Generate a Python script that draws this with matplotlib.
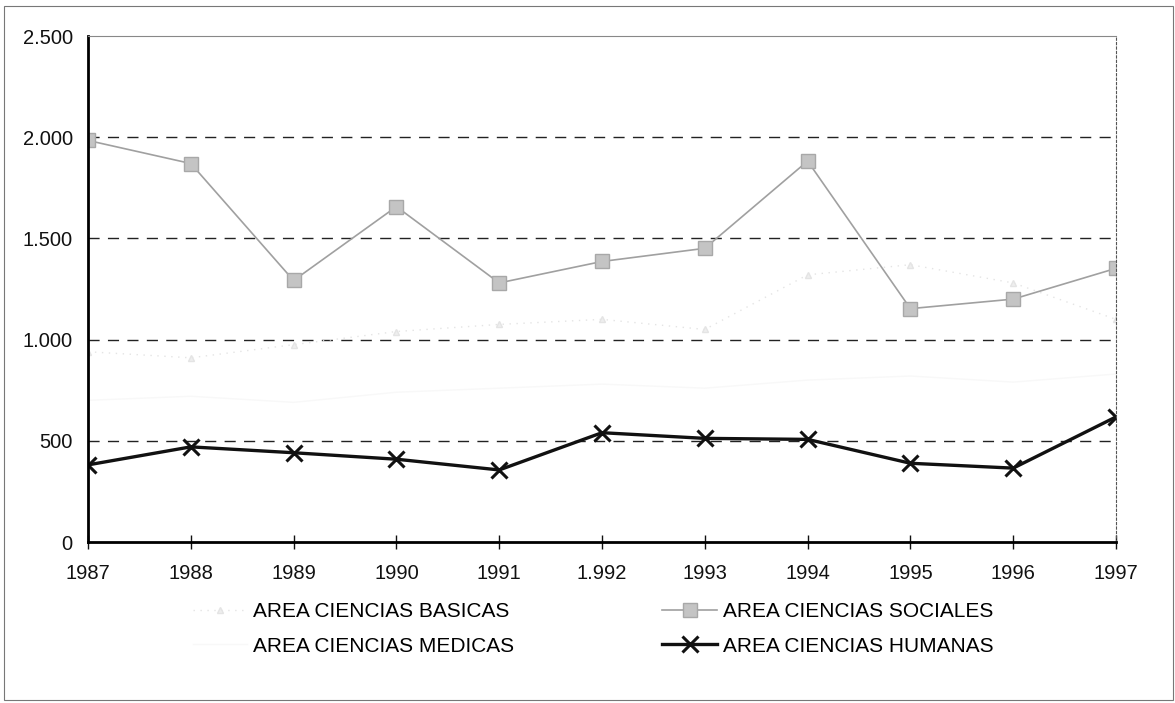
#!/usr/bin/env python3
"""
Produccion por area de ciencias, 1987-1997
Output: out.png
"""

import matplotlib.pyplot as plt
from matplotlib.patches import Rectangle

plt.rcParams['font.family'] = ['Liberation Sans', 'DejaVu Sans']

# =====================================
# Data
# =====================================
YEARS = [1987, 1988, 1989, 1990, 1991, 1992, 1993, 1994, 1995, 1996, 1997]
YEAR_LABELS = ["1987", "1988", "1989", "1990", "1991", "1.992",
               "1993", "1994", "1995", "1996", "1997"]

BASICAS = [940, 910, 975, 1040, 1075, 1100, 1050, 1320, 1370, 1280, 1100]
MEDICAS = [700, 720, 690, 740, 760, 780, 760, 800, 820, 790, 830]
SOCIALES = [1984, 1870, 1292, 1657, 1280, 1386, 1451, 1882, 1153, 1200, 1352]
HUMANAS = [381, 470, 441, 409, 356, 540, 512, 507, 389, 365, 618]

Y_TICKS = [0, 500, 1000, 1500, 2000, 2500]
Y_LABELS = ["0", "500", "1.000", "1.500", "2.000", "2.500"]

# =====================================
# Plot
# =====================================
fig = plt.figure(figsize=(11.75, 7.03), dpi=100)
ax = fig.add_axes([88 / 1175, 1 - 542 / 703, (1116 - 88) / 1175, (542 - 36) / 703])

ax.plot(YEARS, BASICAS, color='#e4e4e4', linewidth=1, linestyle=(0, (1, 4)),
        marker='^', markersize=5, markeredgecolor='#e4e4e4',
        markerfacecolor='#eeeeee', label='AREA CIENCIAS BASICAS')
ax.plot(YEARS, MEDICAS, color='#f8f8f8', linewidth=1,
        label='AREA CIENCIAS MEDICAS')
ax.plot(YEARS, SOCIALES, color='#a0a0a0', linewidth=1.2,
        marker='s', markersize=10, markerfacecolor='#c4c4c4',
        markeredgecolor='#a8a8a8', label='AREA CIENCIAS SOCIALES')
ax.plot(YEARS, HUMANAS, color='#111111', linewidth=2.4,
        marker='x', markersize=12, markeredgewidth=2.2,
        markeredgecolor='#111111', label='AREA CIENCIAS HUMANAS')

ax.set_xlim(YEARS[0], YEARS[-1])
ax.set_ylim(0, 2500)
ax.set_xticks(YEARS)
ax.set_xticklabels(YEAR_LABELS)
ax.set_yticks(Y_TICKS)
ax.set_yticklabels(Y_LABELS)

ax.tick_params(axis='x', direction='inout', length=10, width=1, pad=11,
               labelsize=14.5, colors='#111111')
ax.tick_params(axis='y', direction='in', length=0, pad=11,
               labelsize=14.5, colors='#111111')

for y in [500, 1000, 1500, 2000]:
    ax.axhline(y, color='#222222', linewidth=1, linestyle=(0, (8, 6)), zorder=0)

ax.spines['left'].set_linewidth(2)
ax.spines['bottom'].set_linewidth(2)
ax.spines['top'].set_color('#888888')
ax.spines['top'].set_linestyle((0, (4, 1)))
ax.spines['top'].set_linewidth(0.8)
ax.spines['right'].set_color('#555555')
ax.spines['right'].set_linestyle((0, (2, 2)))
ax.spines['right'].set_linewidth(0.8)

fig.legend(loc='upper left', bbox_to_anchor=(193 / 1175, 1 - 602 / 703),
           ncol=2, frameon=False, fontsize=15, handlelength=2.6,
           columnspacing=7.1, labelspacing=0.75, handletextpad=0.3,
           borderpad=0, borderaxespad=0)

# outer frame of the chart
fig.patches.append(Rectangle((4 / 1175, 3 / 703), 1169 / 1175, 694 / 703,
                             transform=fig.transFigure, fill=False,
                             edgecolor='#777777', linewidth=0.8))

fig.savefig('out.png', dpi=100)
plt.close(fig)
